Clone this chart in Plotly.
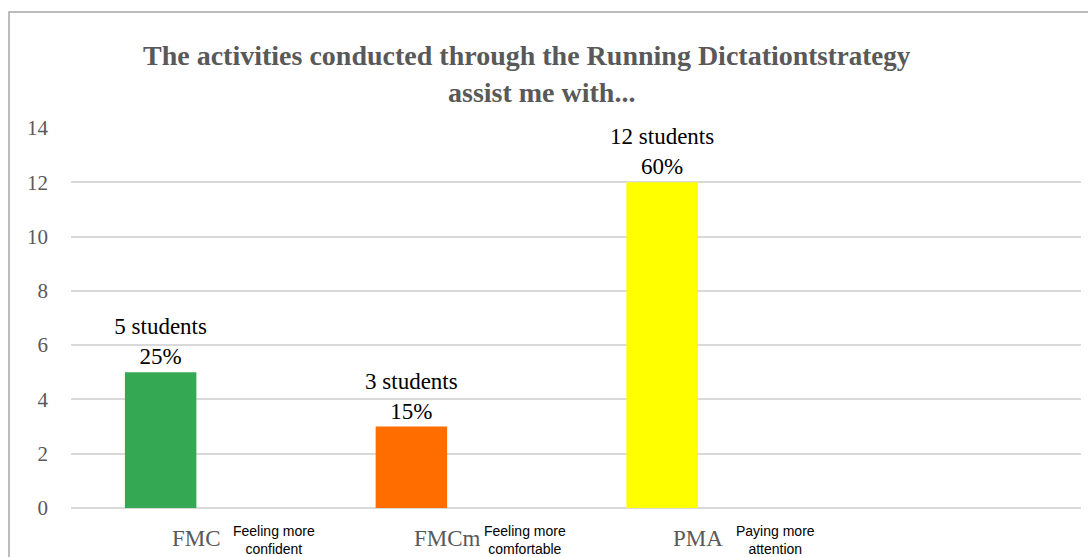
import plotly.graph_objects as go

categories = ["FMC", "FMCm", "PMA", ""]
descriptions = ["Feeling more<br>confident", "Feeling more<br>comfortable", "Paying more<br>attention"]
students = [5, 3, 12, None]
percent_labels = ["25%", "15%", "60%", ""]
bar_colors = ["#34A853", "#FF6D01", "#FFFF00", "#FFFFFF"]
y_ticks = [0, 2, 4, 6, 8, 10, 12, 14]

SERIF = "Liberation Serif, Times New Roman, serif"
SANS = "Liberation Sans, Arial, sans-serif"

x_pos = list(range(len(categories)))
texts = [f"{s} students<br>{p}" if s is not None else "" for s, p in zip(students, percent_labels)]

fig = go.Figure()
fig.add_trace(go.Bar(
    x=x_pos, y=students, marker=dict(color=bar_colors, line=dict(width=0)),
    text=texts, textposition="outside", cliponaxis=False, constraintext="none",
    textfont=dict(family=SERIF, size=23, color="#000000"),
    outsidetextfont=dict(family=SERIF, size=23, color="#000000"),
    showlegend=False, hoverinfo="skip"))
fig.add_trace(go.Bar(x=x_pos, y=[None] * len(x_pos), showlegend=False, hoverinfo="skip"))

W, H = 1088, 557
L, R, T, B = 71, 7, 128, 49
PW, PH = W - L - R, H - T - B

fig.update_layout(
    width=W, height=H, barmode="group", bargap=0.43, bargroupgap=0,
    margin=dict(l=L, r=R, t=T, b=B),
    paper_bgcolor="white", plot_bgcolor="white",
    font=dict(family=SERIF),
    xaxis=dict(range=[-0.5, 3.528], tickvals=x_pos, ticktext=categories,
               showgrid=False, zeroline=False, showline=False, ticks="",
               tickfont=dict(family=SERIF, size=23, color="#595959"),
               ticklabelstandoff=14),
    yaxis=dict(range=[0, 14], tickvals=y_ticks, showgrid=True, gridcolor="#D9D9D9", gridwidth=1.5,
               zeroline=True, zerolinecolor="#D9D9D9", zerolinewidth=1.5, showline=False,
               tickfont=dict(family=SERIF, size=21, color="#595959"),
               ticklabelstandoff=22),
)

# outer chart border
fig.add_shape(type="rect", xref="paper", yref="paper",
              x0=(9 - L) / PW, x1=1.2, y0=-0.5, y1=(H - B - 12) / PH,
              line=dict(color="#A6A6A6", width=1.5), fillcolor="rgba(0,0,0,0)", layer="below")

# title
fig.add_annotation(xref="paper", yref="paper", x=(527 - L) / PW, y=1, yshift=73,
                   text="<b>The activities conducted through the Running Dictation<span style='font-size:27px'>tstrategy</span></b>",
                   showarrow=False, xanchor="center", yanchor="middle",
                   font=dict(family=SERIF, size=28, color="#595959"))
fig.add_annotation(xref="paper", yref="paper", x=(541 - L) / PW, y=1, yshift=36,
                   text="<b>assist me with...</b>",
                   showarrow=False, xanchor="center", yanchor="middle",
                   font=dict(family=SERIF, size=28, color="#595959"))

# small description labels beside the category labels
for i in range(3):
    fig.add_annotation(xref="x", yref="paper", x=i + 0.31, y=0, yshift=-(540 - (H - B)),
                       text=descriptions[i], showarrow=False, xanchor="center", yanchor="middle",
                       align="center",
                       font=dict(family=SANS, size=14, color="#000000"))

fig.write_html("out.html")
